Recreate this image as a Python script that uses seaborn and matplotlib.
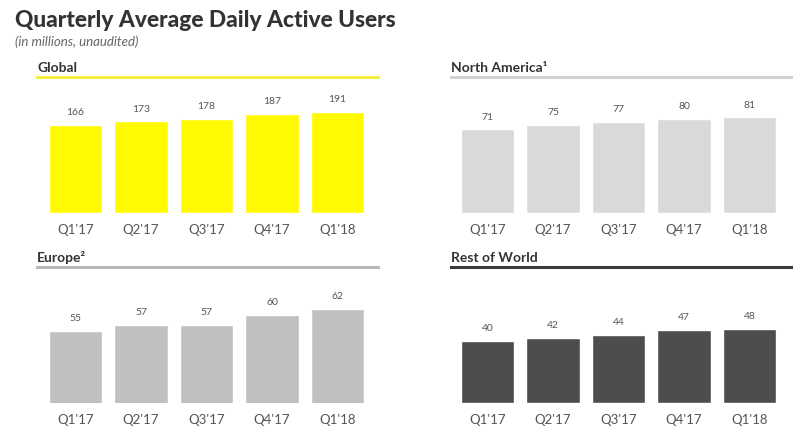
import numpy as np
import pandas as pd
import matplotlib.pyplot as plt
import seaborn as sns

quarters = ["Q1'17", "Q2'17", "Q3'17", "Q4'17", "Q1'18"]
global_dau = [166, 173, 178, 187, 191]
north_america_dau = [71, 75, 77, 80, 81]
europe_dau = [55, 57, 57, 60, 62]
rest_of_world_dau = [40, 42, 44, 47, 48]

titles = ["Global", "North America\u00b9", "Europe\u00b2", "Rest of World"]
series = [global_dau, north_america_dau, europe_dau, rest_of_world_dau]
bar_colors = ["#FFFA00", "#D9D9D9", "#BFC0BF", "#4D4D4D"]
rule_colors = ["#F3EF45", "#D2D2D2", "#B9B9B9", "#3A3A3A"]

# panel geometry in pixels: left, top, right, bottom, first bar centre
boxes = [(37, 77.5, 378, 214, 75.5),
         (451, 77.5, 791, 214, 487.5),
         (37, 267.5, 378, 404, 75.5),
         (451, 267.5, 791, 404, 487.5)]
ylims = [(0, 257.5), (0, 115.7), (32, 75.5), (0, 88.1)]
step = 65.5
W, H = 800, 439

sns.set_style("white")
plt.rcParams["font.family"] = ["Lato", "DejaVu Sans"]

fig = plt.figure(figsize=(W / 100, H / 100), dpi=100)
fig.text(15 / W, 1 - 27 / H, "Quarterly Average Daily Active Users",
         fontsize=16.4, fontweight="black", color="#333333", va="baseline")
fig.text(15 / W, 1 - 42 / H, "(in millions, unaudited)",
         fontsize=9.5, style="italic", color="#666666", va="center")

for i in range(4):
    left, top, right, bottom, c0 = boxes[i]
    ax = fig.add_axes([left / W, 1 - bottom / H, (right - left) / W, (bottom - top) / H])
    df = pd.DataFrame({"quarter": quarters, "dau": series[i]})
    sns.barplot(data=df, x="quarter", y="dau", color=bar_colors[i],
                saturation=1, width=0.81, ax=ax)
    ax.set_xlim(-(c0 - left) / step, 4 + (right - (c0 + 4 * step)) / step)
    ax.set_ylim(*ylims[i])
    for j, v in enumerate(series[i]):
        ax.annotate(str(v), (j, v), xytext=(0, 9.5), textcoords="offset points",
                    ha="center", va="center", fontsize=7.5, color="#555555")
    ax.set_xlabel("")
    ax.set_ylabel("")
    ax.set_yticks([])
    ax.tick_params(axis="x", length=0, pad=7, labelsize=9.5, labelcolor="#555555")
    for s in ["left", "right", "bottom"]:
        ax.spines[s].set_visible(False)
    ax.spines["top"].set_color(rule_colors[i])
    ax.spines["top"].set_linewidth(2.2)
    ax.set_title(titles[i], loc="left", pad=4, fontsize=10,
                 fontweight="bold", color="#333333")

fig.savefig("out.png", dpi=100)
